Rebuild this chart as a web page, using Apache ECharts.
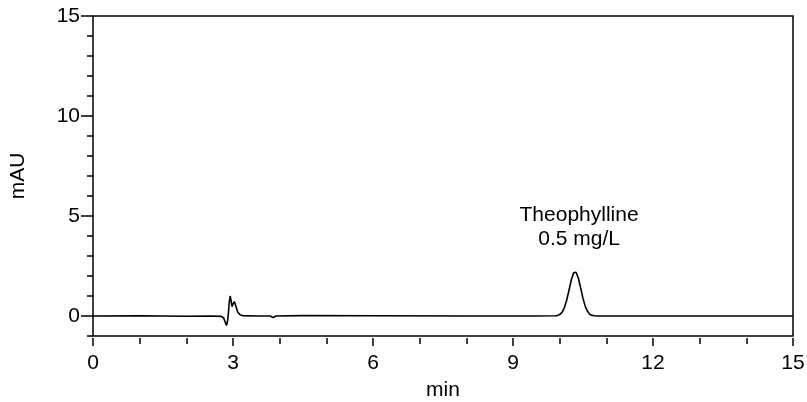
<!DOCTYPE html>
<html>
<head>
<meta charset="utf-8">
<script src="https://cdn.jsdelivr.net/npm/echarts@6/dist/echarts.min.js"></script>
<style>html,body{margin:0;padding:0;background:#fff}#c{width:807px;height:402px}</style>
</head>
<body>
<div id="c"></div>
<script>
// Retention time (min)
var times = [0, 1, 2, 2.5, 2.75, 2.8, 2.84, 2.86, 2.88, 2.9, 2.92, 2.94, 2.96, 2.98, 3.0, 3.03, 3.06, 3.1, 3.15, 3.2, 3.5, 3.8, 3.86, 3.92, 4.5, 6, 8, 9.5, 9.9, 9.95, 10.0, 10.05, 10.1, 10.15, 10.2, 10.25, 10.3, 10.33, 10.35, 10.4, 10.45, 10.5, 10.55, 10.6, 10.65, 10.7, 10.75, 10.8, 11, 13, 15];
// Absorbance (mAU)
var signal = [0, 0.01, -0.01, 0, -0.02, -0.1, -0.35, -0.48, -0.3, 0.1, 0.7, 1.0, 0.75, 0.47, 0.6, 0.72, 0.5, 0.2, 0.06, 0.02, 0, 0, -0.08, 0, 0.02, 0.01, 0, 0, 0.01, 0.02, 0.07, 0.18, 0.41, 0.79, 1.29, 1.81, 2.16, 2.22, 2.19, 1.9, 1.4, 0.88, 0.47, 0.22, 0.08, 0.03, 0.01, 0, 0, 0, 0];
var xTicks = [0, 3, 6, 9, 12, 15];
var yMajorTicks = [0, 5, 10, 15];
var peakName = 'Theophylline';
var peakConc = '0.5 mg/L';
var peakPoint = [[10.33, 2.22]];

var font = 'Liberation Sans, Arial, sans-serif';
var data = times.map(function (t, i) { return [t, signal[i]]; });

var chart = echarts.init(document.getElementById('c'));
chart.setOption({
  animation: false,
  backgroundColor: '#fff',
  grid: { left: 93, right: 14, top: 16, bottom: 66, containLabel: false, outerBoundsMode: 'none',
    show: true, borderColor: '#000', borderWidth: 1.5, backgroundColor: 'transparent' },
  xAxis: {
    type: 'value', min: 0, max: 15, interval: 3, offset: 2,
    name: 'min', nameLocation: 'middle', nameGap: 42,
    nameTextStyle: { color: '#000', fontSize: 21, fontFamily: font },
    axisLine: { show: false, onZero: false },
    axisTick: { show: true, length: 8, lineStyle: { color: '#000', width: 1.5 } },
    minorTick: { show: true, splitNumber: 3, length: 6, lineStyle: { color: '#000', width: 1.5 } },
    axisLabel: { color: '#000', fontSize: 21, fontFamily: font, margin: 15, customValues: xTicks },
    splitLine: { show: false }
  },
  yAxis: [{
    type: 'value', min: -1, max: 15, interval: 1,
    axisLine: { show: false, onZero: false },
    axisTick: { show: true, length: 6, lineStyle: { color: '#000', width: 1.5 } },
    axisLabel: { show: false },
    splitLine: { show: false }
  }, {
    type: 'value', min: -1, max: 15, position: 'left',
    name: 'mAU', nameLocation: 'middle', nameGap: 64, nameRotate: 90,
    nameTextStyle: { color: '#000', fontSize: 21, fontFamily: font },
    axisLine: { show: false, onZero: false },
    axisTick: { show: true, length: 12, customValues: yMajorTicks, lineStyle: { color: '#000', width: 1.5 } },
    axisLabel: { color: '#000', fontSize: 21, fontFamily: font, margin: 13, customValues: yMajorTicks },
    splitLine: { show: false }
  }],
  series: [{
    type: 'line', data: data, xAxisIndex: 0, yAxisIndex: 0,
    showSymbol: false, symbol: 'none',
    lineStyle: { color: '#000', width: 1.6 }
  }, {
    type: 'scatter', data: peakPoint, xAxisIndex: 0, yAxisIndex: 0,
    symbolSize: 0.5, itemStyle: { color: '#000', opacity: 1 },
    emphasis: { disabled: true },
    label: {
      show: true, position: 'top', distance: 20, offset: [4, 0],
      formatter: peakName + '\n' + peakConc,
      color: '#000', opacity: 1, fontSize: 21, fontFamily: font, lineHeight: 24, align: 'center'
    }
  }]
});
</script>
</body>
</html>
